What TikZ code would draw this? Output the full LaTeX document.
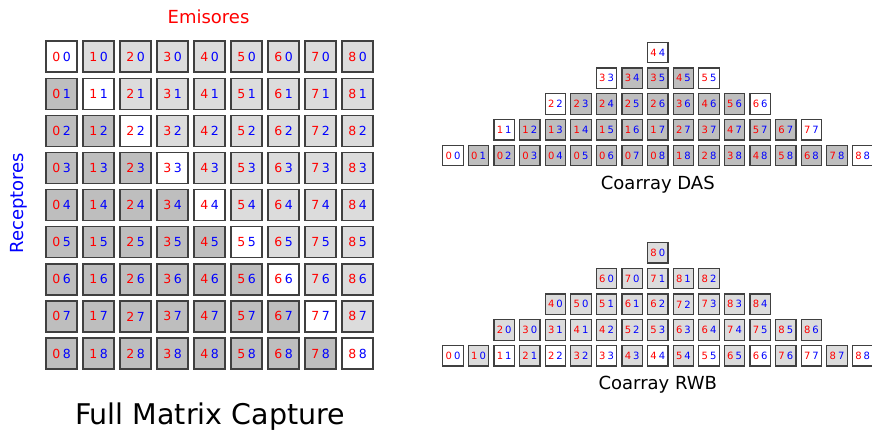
\documentclass[tikz,border=0pt]{standalone}
\usepackage{fontspec}
\setmainfont{DejaVu Sans}
\usepackage{xcolor}
\definecolor{cellup}{HTML}{DCDCDC}
\definecolor{celllow}{HTML}{BEBEBE}
\definecolor{cellrim}{HTML}{404040}
\usepackage{tikz}
\usetikzlibrary{positioning}
\newcommand{\pairlbl}[2]{\textcolor{red}{#1}\kern0.2em\textcolor{blue}{#2}}

\begin{document}
\begin{tikzpicture}[x=1pt,y=-1pt]
\tikzset{
 cell/.style={draw=cellrim,line width=1.4pt,minimum size=31pt,inner sep=0pt,font=\fontsize{12.5}{12.5}\selectfont},
 smallcell/.style={draw=cellrim,line width=1.2pt,minimum size=20.5pt,inner sep=0pt,font=\fontsize{10}{10}\selectfont},
 caption/.style={font=\fontsize{18}{18}\selectfont}
}
\useasboundingbox (0,0) rectangle (872,433);

% full matrix capture
\foreach \c in {0,...,8}{
 \foreach \r in {0,...,8}{
  \ifnum\c=\r \def\fc{white}\else\ifnum\c>\r \def\fc{cellup}\else\def\fc{celllow}\fi\fi
  \node[cell,fill=\fc] (m\c\r) at ({61.5+37*\c},{56.7+37.1*\r}) {\pairlbl{\c}{\r}};
 }
}
\node[caption,text=red] (emi) at (208.5,17) {Emisores};
\node[caption,text=blue,rotate=90] (rec) at (18.5,203) {Receptores};
\node[font=\fontsize{28.5}{28.5}\selectfont] (fmc) at (210,417) {Full Matrix Capture};

% coarray DAS
\foreach \k in {0,...,4}{
 \pgfmathtruncatemacro\lo{2*\k}
 \pgfmathtruncatemacro\hi{16-2*\k}
 \foreach \i in {\lo,...,\hi}{
  \pgfmathtruncatemacro\dgB{min(\i-\k,8-\k)}
  \pgfmathtruncatemacro\dgA{\i-\dgB}
  \ifnum\dgA=\dgB \def\fc{white}\else\def\fc{celllow}\fi
  \node[smallcell,fill=\fc] (d\k-\i) at ({453+25.6*\i},{155.5-25.75*\k}) {\pairlbl{\dgA}{\dgB}};
 }
}
\node[caption,below=6pt of d0-8] (das) {Coarray DAS};

% coarray RWB
\foreach \k in {0,...,4}{
 \pgfmathtruncatemacro\lo{2*\k}
 \pgfmathtruncatemacro\hi{16-2*\k}
 \foreach \i in {\lo,...,\hi}{
  \pgfmathtruncatemacro\dd{2*\k+mod(\i,2)}
  \pgfmathtruncatemacro\dgA{(\i+\dd)/2}
  \pgfmathtruncatemacro\dgB{(\i-\dd)/2}
  \ifnum\dgA=\dgB \def\fc{white}\else\def\fc{cellup}\fi
  \node[smallcell,fill=\fc] (w\k-\i) at ({453+25.6*\i},{355.8-25.75*\k}) {\pairlbl{\dgA}{\dgB}};
 }
}
\node[caption,below=6pt of w0-8] (rwb) {Coarray RWB};
\end{tikzpicture}
\end{document}
